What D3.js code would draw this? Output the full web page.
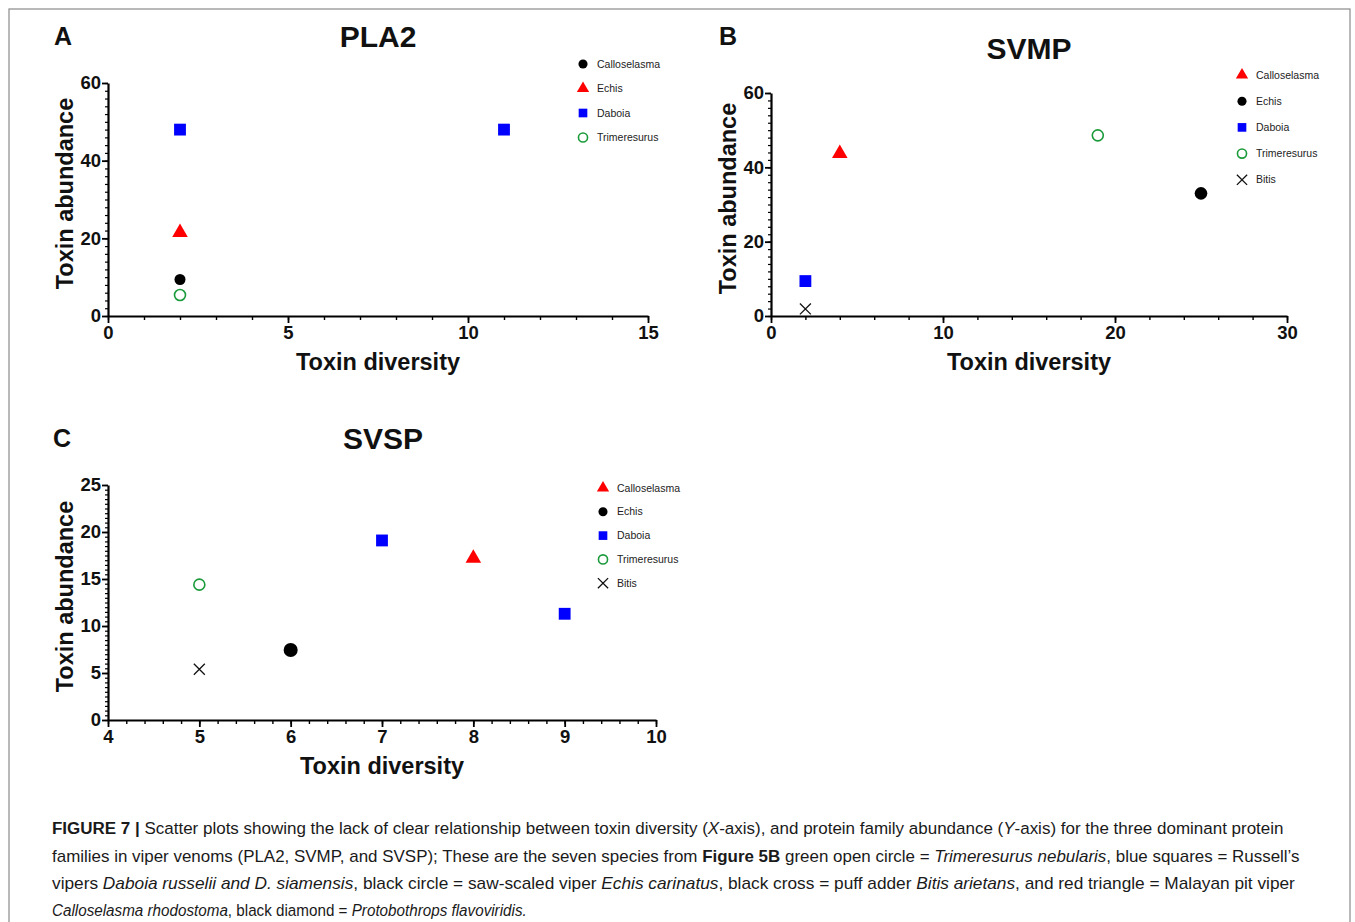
<!DOCTYPE html>
<meta charset="utf-8">
<script src="https://cdn.jsdelivr.net/npm/d3@7"></script>
<style>
  body { margin: 0; background: #fff; }
  .tick text { font-family: "Liberation Sans", Arial, sans-serif; font-weight: bold; font-size: 18.5px; fill: #111; }
  .axisTitle { font-family: "Liberation Sans", Arial, sans-serif; font-weight: bold; font-size: 23.5px; fill: #111; text-anchor: middle; }
  .panelTitle { font-family: "Liberation Sans", Arial, sans-serif; font-weight: bold; font-size: 30px; fill: #111; text-anchor: middle; }
  .panelLetter { font-family: "Liberation Sans", Arial, sans-serif; font-weight: bold; font-size: 25px; fill: #111; }
  .legendText { font-family: "Liberation Sans", Arial, sans-serif; font-size: 10.5px; fill: #222; }
  .caption { font-family: "Liberation Sans", Arial, sans-serif; font-size: 17px; fill: #1a1a1a; }
</style>
<svg width="1355" height="922"></svg>
<script>

////////////////////
// DATA

// A: PLA2
const pla2Species   = ["Calloselasma", "Echis", "Daboia", "Daboia", "Trimeresurus"];
const pla2Diversity = [2, 2, 2, 11, 2];
const pla2Abundance = [9.4, 21.5, 48, 48, 5.4];
const pla2Legend    = ["Calloselasma", "Echis", "Daboia", "Trimeresurus"];
const pla2Symbols   = ["dot", "triangle", "square", "ring"];
const pla2XTicks = [0, 5, 10, 15];
const pla2YTicks = [0, 20, 40, 60];

// B: SVMP
const svmpSpecies   = ["Calloselasma", "Echis", "Daboia", "Trimeresurus", "Bitis"];
const svmpDiversity = [4, 25, 2, 19, 2];
const svmpAbundance = [43.7, 33, 9.4, 48.6, 1.9];
const svmpLegend    = ["Calloselasma", "Echis", "Daboia", "Trimeresurus", "Bitis"];
const svmpSymbols   = ["triangle", "dot", "square", "ring", "cross"];
const svmpXTicks = [0, 10, 20, 30];
const svmpYTicks = [0, 20, 40, 60];

// C: SVSP
const svspSpecies   = ["Trimeresurus", "Echis", "Daboia", "Calloselasma", "Daboia", "Bitis"];
const svspDiversity = [5, 6, 7, 8, 9, 5];
const svspAbundance = [14.4, 7.45, 19.1, 17.2, 11.3, 5.4];
const svspLegend    = ["Calloselasma", "Echis", "Daboia", "Trimeresurus", "Bitis"];
const svspSymbols   = ["triangle", "dot", "square", "ring", "cross"];
const svspXTicks = [4, 5, 6, 7, 8, 9, 10];
const svspYTicks = [0, 5, 10, 15, 20, 25];

////////////////////
// SVG

const svg = d3.select("svg");

svg.append("rect")
  .attr("x", 9).attr("y", 9)
  .attr("width", 1341).attr("height", 930)
  .attr("fill", "#fff")
  .attr("stroke", "#8a8a8a")
  .attr("stroke-width", 1.2);

const symbolStyle = {
  dot:      {type: d3.symbolCircle,   fill: "#000",    stroke: "none"},
  triangle: {type: d3.symbolTriangle, fill: "#f00",    stroke: "none"},
  square:   {type: d3.symbolSquare,   fill: "#0000ff", stroke: "none"},
  ring:     {type: d3.symbolCircle,   fill: "none",    stroke: "#1a9a3a"},
  cross:    {type: d3.symbolTimes,    fill: "none",    stroke: "#111"}
};

function drawMark(g, sym, x, y, size) {
  const s = symbolStyle[sym];
  g.append("path")
    .attr("transform", `translate(${x},${y})`)
    .attr("d", d3.symbol().type(s.type).size(size)())
    .attr("fill", s.fill)
    .attr("stroke", s.stroke)
    .attr("stroke-width", sym == "cross" ? 1.3 : 1.6);
}

function drawPanel(p) {
  const x = d3.scaleLinear().domain(p.xDomain).range([p.left, p.right]);
  const y = d3.scaleLinear().domain(p.yDomain).range([p.bottom, p.top]);
  const g = svg.append("g");

  // minor ticks
  g.append("g")
    .attr("transform", `translate(0,${p.bottom})`)
    .call(d3.axisBottom(x).tickValues(d3.range(p.xDomain[0], p.xDomain[1] + 1e-9, p.xMinor)).tickFormat("").tickSize(4).tickSizeOuter(0))
    .call(a => a.select(".domain").remove())
    .call(a => a.selectAll("line").attr("stroke-width", 1.4));
  g.append("g")
    .attr("transform", `translate(${p.left},0)`)
    .call(d3.axisLeft(y).tickValues(d3.range(p.yDomain[0], p.yDomain[1] + 1e-9, p.yMinor)).tickFormat("").tickSize(3).tickSizeOuter(0))
    .call(a => a.select(".domain").remove())
    .call(a => a.selectAll("line").attr("stroke-width", 1.2));

  // major
  g.append("g")
    .attr("transform", `translate(0,${p.bottom})`)
    .call(d3.axisBottom(x).tickValues(p.xTicks).tickFormat(d3.format("d")).tickSize(7).tickSizeOuter(0).tickPadding(3))
    .call(a => a.select(".domain").attr("stroke-width", 2.2))
    .call(a => a.selectAll("line").attr("stroke-width", 1.8));
  g.append("g")
    .attr("transform", `translate(${p.left},0)`)
    .call(d3.axisLeft(y).tickValues(p.yTicks).tickFormat(d3.format("d")).tickSize(6).tickSizeOuter(0).tickPadding(1))
    .call(a => a.select(".domain").attr("stroke-width", 2.2))
    .call(a => a.selectAll("line").attr("stroke-width", 1.8));

  // titles
  g.append("text").attr("class", "panelLetter").attr("x", p.letterX).attr("y", p.letterY).text(p.letter);
  g.append("text").attr("class", "panelTitle").attr("x", p.titleX).attr("y", p.titleY).text(p.title);
  g.append("text").attr("class", "axisTitle")
    .attr("x", (p.left + p.right) / 2).attr("y", p.bottom + 54).text("Toxin diversity");
  g.append("text").attr("class", "axisTitle")
    .attr("transform", `translate(${p.left - 35},${(p.top + p.bottom) / 2 - 6}) rotate(-90)`)
    .text("Toxin abundance");

  // points
  p.species.forEach((sp, i) => {
    const sym = p.symbols[p.legend.indexOf(sp)];
    const size = sym == "square" ? 140 : sym == "triangle" ? 105 : sym == "cross" ? 80 : (sym == "dot" ? p.dotSize : 95);
    drawMark(g, sym, x(p.diversity[i]), y(p.abundance[i]), size);
  });

  // legend
  p.legend.forEach((name, i) => {
    const ly = p.legendY + i * p.legendStep;
    drawMark(g, p.symbols[i], p.legendX, ly, p.symbols[i] == "cross" ? 70 : p.symbols[i] == "square" ? 75 : 65);
    g.append("text").attr("class", "legendText")
      .attr("x", p.legendX + 14).attr("y", ly + 3.5).text(name);
  });
}

drawPanel({
  letter: "A", letterX: 54, letterY: 45, title: "PLA2", titleX: 378, titleY: 47,
  left: 108, right: 648, top: 83, bottom: 316,
  xDomain: [0, 15], yDomain: [0, 60], xTicks: pla2XTicks, yTicks: pla2YTicks, xMinor: 1, yMinor: 2,
  species: pla2Species, diversity: pla2Diversity, abundance: pla2Abundance,
  legend: pla2Legend, symbols: pla2Symbols, legendX: 583, legendY: 64, legendStep: 24.5, dotSize: 95
});

drawPanel({
  letter: "B", letterX: 719, letterY: 45, title: "SVMP", titleX: 1029, titleY: 59,
  left: 771, right: 1287, top: 93, bottom: 316,
  xDomain: [0, 30], yDomain: [0, 60], xTicks: svmpXTicks, yTicks: svmpYTicks, xMinor: 2, yMinor: 2,
  species: svmpSpecies, diversity: svmpDiversity, abundance: svmpAbundance,
  legend: svmpLegend, symbols: svmpSymbols, legendX: 1242, legendY: 75, legendStep: 26.2, dotSize: 125
});

drawPanel({
  letter: "C", letterX: 53, letterY: 447, title: "SVSP", titleX: 383, titleY: 449,
  left: 108, right: 656, top: 485, bottom: 720,
  xDomain: [4, 10], yDomain: [0, 25], xTicks: svspXTicks, yTicks: svspYTicks, xMinor: 0.2, yMinor: 0.5,
  species: svspSpecies, diversity: svspDiversity, abundance: svspAbundance,
  legend: svspLegend, symbols: svspSymbols, legendX: 603, legendY: 488, legendStep: 23.8, dotSize: 155
});

////////////////////
// CAPTION

const captionLines = [
  {y: 834, w: 1232, parts: [["FIGURE 7 | ", "b"], ["Scatter plots showing the lack of clear relationship between toxin diversity (", ""], ["X", "i"], ["-axis), and protein family abundance (", ""], ["Y", "i"], ["-axis) for the three dominant protein", ""]]},
  {y: 862, w: 1248, parts: [["families in viper venoms (PLA2, SVMP, and SVSP); These are the seven species from ", ""], ["Figure 5B", "b"], [" green open circle = ", ""], ["Trimeresurus nebularis", "i"], [", blue squares = Russell\u2019s", ""]]},
  {y: 889, w: 1244, parts: [["vipers ", ""], ["Daboia russelii and D. siamensis", "i"], [", black circle = saw-scaled viper ", ""], ["Echis carinatus", "i"], [", black cross = puff adder ", ""], ["Bitis arietans", "i"], [", and red triangle = Malayan pit viper", ""]]},
  {y: 916, w: 475, parts: [["Calloselasma rhodostoma", "i"], [", black diamond = ", ""], ["Protobothrops flavoviridis.", "i"]]}
];

captionLines.forEach(line => {
  const g = svg.append("g");
  const t = g.append("text").attr("class", "caption");
  line.parts.forEach(([s, f]) => {
    t.append("tspan").text(s)
      .attr("font-weight", f == "b" ? "bold" : null)
      .attr("font-style", f == "i" ? "italic" : null);
  });
  const natural = t.node().getComputedTextLength();
  g.attr("transform", `translate(52,${line.y}) scale(${line.w / natural},1)`);
});
</script>
